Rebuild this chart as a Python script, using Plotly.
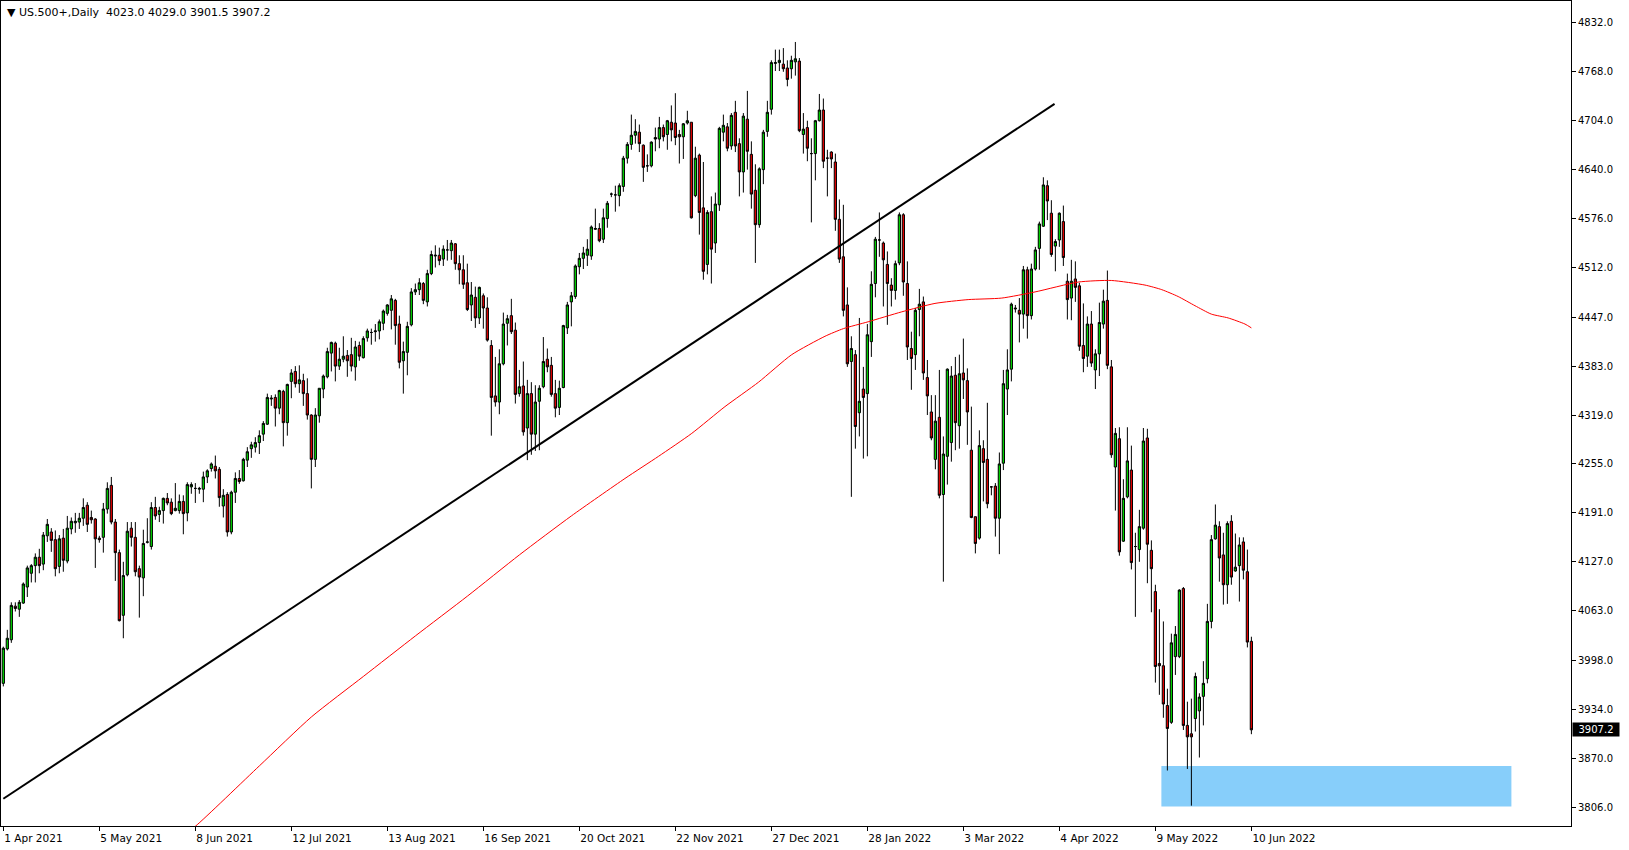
import plotly.graph_objects as go

symbol_title = "▼ US.500+,Daily  4023.0 4029.0 3901.5 3907.2"

tick_bars = [0, 24, 48, 72, 96, 120, 144, 168, 192, 216, 240, 264, 288, 312]
tick_labels = ["1 Apr 2021", "5 May 2021", "8 Jun 2021", "12 Jul 2021", "13 Aug 2021",
               "16 Sep 2021", "20 Oct 2021", "22 Nov 2021", "27 Dec 2021", "28 Jan 2022",
               "3 Mar 2022", "4 Apr 2022", "9 May 2022", "10 Jun 2022"]
price_ticks = [4832, 4768, 4704, 4640, 4576, 4512, 4447, 4383, 4319, 4255, 4191,
               4127, 4063, 3998, 3934, 3870, 3806]

opens = [3968,4013,4025,4069,4065,4073,4094,4112,4122,4133,4124,4161,4166,4156,4121,4158,4128,4170,4178,4179,
         4184,4201,4185,4183,4158,4159,4196,4227,4179,4139,4057,4110,4171,4159,4118,4106,4152.5,4147,4198,4189,
         4194,4210,4205,4194,4194,4206,4191,4225,4223,4222,4222,4238,4249,4252,4248,4200,4215,4166,4218,4236,
         4233,4260,4275,4277,4283,4294,4307,4340,4342,4328,4350,4309,4363,4376,4360,4364,4347,4319,4261,4318,
         4353,4369,4400,4413,4383,4392,4397,4398,4382,4410,4394,4420,4427,4428,4429,4439,4452,4456,4469,4438,
         4390,4401,4437,4480,4483,4491,4467,4504,4527,4528,4523,4535,4534,4543,4517,4509,4492,4463,4473,4446,
         4475,4459,4410,4344,4336,4386,4439,4449,4430,4347,4357,4302,4347,4294,4337,4356,4392,4384,4347,4329,
         4355,4433,4467,4474,4513,4524,4528,4527,4562,4563,4549,4576,4608,4607,4606,4618,4655,4673,4685,4689,
         4672,4645,4645,4682,4680,4695,4686,4702,4701,4686,4683,4701,4702,4606,4659,4590,4516,4585,4544,4594,
         4689,4696,4671,4715,4674,4637,4706,4660,4613,4568,4640,4690,4719,4779,4780,4778,4773,4772,4781,4782,
         4686,4695,4661,4661,4704,4718,4655,4663,4650,4575,4526,4463,4389,4398,4322,4353,4347,4415,4491,4548,
         4544,4516,4489,4482,4518,4581,4491,4406,4398,4457,4467,4368,4323,4261,4316,4215,4265,4283,4371,4305,
         4374,4364,4273,4186,4158,4275,4261,4225,4226,4184,4256,4353,4379,4459,4456,4451,4509,4449,4510,4537,
         4566,4619,4583,4540,4548,4572,4494,4472,4497,4488,4410,4396,4438,4378,4399,4438,4469,4382,4251,4288,
         4154,4212,4247,4147,4143,4171,4289,4142,4088,3994,3991,3939,3917,4003,4003,4092,3913,3902,3922,3932,
         3951,3974,4049,4157,4173,4136,4097,4180,4115,4122,4153,4114,4023.0]
highs = [4016,4038,4074,4074,4077,4100,4122,4124,4138,4144,4166,4183,4171,4168,4162,4170,4187,4185,4191,4191,
         4210,4205,4194,4184,4161,4204,4231,4238,4183,4143,4127,4179,4179,4179,4122,4169,4184,4205,4212,4199,
         4211,4217,4210,4230,4215,4214,4231,4231,4230,4225,4245,4248,4257,4266,4251,4222,4218,4220,4244,4247,
         4263,4277,4284,4290,4299,4311,4347,4345,4346,4352,4352,4360,4379,4383,4384,4373,4367,4320,4328,4354,
         4372,4407,4415,4415,4407,4422,4404,4420,4416,4415,4422,4432,4432,4438,4444,4457,4464,4476,4471,4449,
         4415,4441,4485,4491,4498,4493,4509,4534,4541,4538,4541,4548,4548,4544,4528,4528,4517,4493,4487,4487,
         4478,4473,4417,4395,4405,4453,4450,4471,4440,4378,4389,4365,4362,4358,4358,4421,4406,4395,4365,4364,
         4437,4467,4480,4516,4531,4539,4549,4567,4589,4570,4589,4599,4610,4619,4622,4658,4676,4712,4706,4699,
         4673,4660,4677,4695,4709,4699,4705,4724,4740,4692,4701,4717,4702,4670,4661,4650,4587,4605,4610,4696,
         4712,4701,4714,4730,4681,4714,4743,4677,4647,4643,4692,4730,4783,4797,4797,4799,4783,4789,4807,4786,
         4714,4704,4681,4705,4739,4733,4666,4664,4661,4601,4594,4486,4422,4404,4446,4382,4438,4507,4552,4584,
         4546,4533,4498,4521,4584,4583,4520,4428,4459,4484,4474,4391,4345,4345,4378,4291,4380,4383,4395,4398,
         4419,4380,4330,4186,4299,4286,4335,4226,4230,4270,4378,4405,4466,4463,4472,4514,4513,4517,4539,4572,
         4630,4626,4600,4549,4584,4593,4504,4522,4520,4492,4465,4448,4455,4405,4466,4483,4508,4391,4302,4303,
         4235,4303,4279,4165,4195,4302,4301,4155,4097,4065,4049,3961,4033,4043,4091,4094,3944,3948,3982,3955,
         3997,4072,4162,4202,4180,4165,4180,4188,4164,4159,4159,4143,4029.0]
lows = [3964,4011,4021,4062,4055,4072,4081,4100,4100,4112,4116,4153,4140,4108,4112,4114,4125,4163,4165,4170,
        4174,4166,4177,4119,4152,4139,4190,4176,4102,4049,4027,4108,4147,4108,4054,4082,4151,4143,4182,4179,
        4177,4201,4188,4193,4190,4163,4180,4216,4204,4216,4205,4230,4245,4236,4199,4185,4160,4163,4204,4229,
        4232,4251,4263,4270,4268,4285,4306,4331,4304,4320,4278,4292,4341,4355,4348,4331,4313,4223,4251,4309,
        4341,4367,4376,4363,4378,4388,4369,4376,4364,4390,4393,4415,4411,4415,4418,4430,4449,4431,4411,4380,
        4347,4371,4435,4476,4476,4464,4461,4502,4512,4515,4514,4521,4522,4509,4490,4484,4455,4442,4433,4438,
        4432,4415,4292,4330,4320,4384,4410,4425,4334,4343,4292,4260,4267,4272,4273,4354,4375,4343,4316,4319,
        4354,4425,4435,4471,4503,4510,4514,4522,4561,4545,4544,4564,4604,4585,4592,4611,4648,4666,4674,4663,
        4624,4637,4643,4664,4668,4677,4666,4677,4672,4648,4654,4699,4576,4604,4555,4496,4503,4491,4531,4586,
        4677,4664,4666,4663,4605,4610,4640,4589,4518,4564,4621,4683,4712,4769,4769,4768,4749,4759,4763,4689,
        4661,4651,4571,4626,4703,4642,4605,4642,4560,4518,4448,4382,4212,4275,4291,4262,4265,4395,4473,4526,
        4461,4437,4461,4470,4515,4475,4391,4352,4378,4422,4365,4319,4286,4248,4210,4101,4228,4258,4273,4275,
        4340,4280,4184,4138,4156,4206,4197,4214,4160,4137,4247,4319,4363,4453,4414,4432,4419,4444,4508,4509,
        4565,4574,4526,4507,4539,4514,4444,4443,4467,4403,4375,4382,4382,4353,4370,4432,4379,4263,4194,4135,
        4153,4210,4117,4055,4127,4169,4099,4061,3969,3953,3923,3854,3915,3979,4001,3907,3856,3808,3905,3871,
        3913,3968,4040,4156,4101,4071,4072,4097,4114,4075,4104,4015,3901.5]
closes = [4014,4027,4070,4066,4074,4098,4119,4122,4133,4122,4162,4176,4155,4118,4157,4129,4171,4180,4180,4184,
          4198,4176,4182,4157,4156,4196,4223,4179,4139,4050,4109,4167,4159,4114,4107,4151,4153,4198,4187,4194,
          4210,4204,4190,4197,4206,4190,4228,4228,4223,4223,4238,4246,4255,4246,4211,4214,4166,4218,4236,4232,
          4261,4271,4280,4283,4292,4308,4342,4341,4328,4351,4309,4359,4374,4360,4365,4347,4319,4261,4319,4354,
          4370,4402,4414,4383,4392,4396,4390,4383,4408,4396,4419,4429,4427,4429,4441,4455,4463,4471,4436,4388,
          4402,4435,4480,4483,4492,4469,4504,4529,4528,4521,4536,4535,4544,4517,4509,4490,4457,4476,4446,4486,
          4459,4417,4342,4336,4386,4438,4445,4428,4346,4356,4297,4347,4294,4336,4354,4389,4382,4346,4328,4354,
          4436,4463,4475,4514,4524,4531,4536,4565,4563,4547,4577,4596,4608,4607,4619,4655,4673,4685,4690,4674,
          4643,4645,4676,4680,4695,4683,4704,4692,4682,4683,4700,4704,4577,4655,4584,4507,4584,4536,4595,4694,
          4698,4668,4711,4671,4637,4710,4664,4608,4568,4641,4689,4715,4780,4780,4783,4772,4758,4783,4785,4691,
          4693,4668,4661,4704,4718,4651,4655,4654,4575,4523,4456,4386,4406,4304,4337,4342,4424,4490,4549,4548,
          4522,4491,4482,4517,4581,4493,4408,4393,4456,4464,4374,4344,4289,4311,4214,4268,4379,4370,4309,4373,
          4365,4323,4185,4151,4279,4257,4203,4225,4184,4255,4360,4378,4464,4458,4451,4509,4449,4510,4535,4569,
          4620,4599,4529,4546,4583,4525,4470,4494,4486,4409,4393,4438,4387,4399,4440,4468,4384,4267,4295,4140,
          4210,4259,4126,4147,4173,4285,4150,4118,3990,3991,3941,3909,4021,4032,4090,3913,3898,3898,3977,3950,
          3968,4049,4156,4175,4132,4097,4177,4107,4120,4149,4116,4022,3907.2]

ma_bars = [45, 48, 64, 77, 90, 103, 116, 129, 142, 155.4, 163.8, 172.1, 180.4, 188.8, 197.1, 205.4,
           210, 216.2, 224.6, 232.9, 241.2, 249.6, 257.9, 268.8, 277, 285.4, 289.6, 293.7, 297.9, 302,
           306.2, 310.4, 312]
ma_values = [3770, 3781, 3860, 3924, 3977, 4030, 4082, 4136, 4187, 4236, 4265, 4295, 4330, 4362, 4398, 4422,
             4432, 4441, 4454, 4465, 4470, 4472, 4480, 4493, 4495, 4489, 4483, 4474, 4462, 4451,
             4446, 4438, 4433]

trend_bars = [0, 262.8]
trend_prices = [3817, 4726]

zone_bars = [290, 377]
zone_prices = [3807, 3860]

last_price = closes[-1]
bars = list(range(len(closes)))

fig = go.Figure()
fig.add_trace(go.Candlestick(
    x=bars, open=opens, high=highs, low=lows, close=closes,
    increasing=dict(fillcolor="#00d200", line=dict(color="black", width=1)),
    decreasing=dict(fillcolor="#e00000", line=dict(color="black", width=1)),
    whiskerwidth=0, showlegend=False, hoverinfo="skip"))
fig.add_trace(go.Scatter(x=ma_bars, y=ma_values, mode="lines", line_shape="spline",
                         line=dict(color="#ff0000", width=1, smoothing=0.6),
                         showlegend=False, hoverinfo="skip"))
fig.add_trace(go.Scatter(x=trend_bars, y=trend_prices, mode="lines",
                         line=dict(color="black", width=2), showlegend=False, hoverinfo="skip"))

fig.add_shape(type="rect", xref="x", yref="y", x0=zone_bars[0] - 0.5, x1=zone_bars[1],
              y0=zone_prices[0], y1=zone_prices[1], fillcolor="#87cefa", line=dict(width=0), layer="below")

fig.add_annotation(xref="paper", yref="paper", x=0, y=1, xanchor="left", yanchor="top",
                   text=symbol_title, showarrow=False, xshift=4, yshift=-3,
                   font=dict(family="DejaVu Sans", size=11, color="black"))
fig.add_annotation(xref="paper", yref="y", x=1, y=last_price, xanchor="left", yanchor="middle",
                   text=f"{last_price:.1f}", showarrow=False, xshift=1, bgcolor="black",
                   width=44, align="center",
                   font=dict(family="DejaVu Sans", size=10, color="white"), borderpad=1)

fig.update_layout(
    width=1629, height=850, margin=dict(l=1, r=58, t=1, b=24),
    paper_bgcolor="white", plot_bgcolor="white",
    font=dict(family="DejaVu Sans", size=10, color="black"),
    boxgap=0.2,
    xaxis=dict(range=[-0.58, 391.9], tickvals=tick_bars, ticktext=tick_labels,
               showgrid=False, zeroline=False, showline=True, linecolor="black", linewidth=1,
               mirror=True, ticks="outside", ticklen=4, tickcolor="black", ticklabelstandoff=2,
               tickfont=dict(size=10.5),
               ticklabelposition="outside right", rangeslider=dict(visible=False), fixedrange=True),
    yaxis=dict(range=[3781.4, 4860.6], side="right", tickvals=price_ticks,
               ticktext=[f"{v:.1f}" for v in price_ticks],
               showgrid=False, zeroline=False, showline=True, linecolor="black", linewidth=1,
               mirror=True, ticks="outside", ticklen=4, tickcolor="black", fixedrange=True),
)
fig.write_html("out.html", config={"displayModeBar": False},
               post_script="document.body.style.margin='0';document.body.style.overflow='hidden';")
